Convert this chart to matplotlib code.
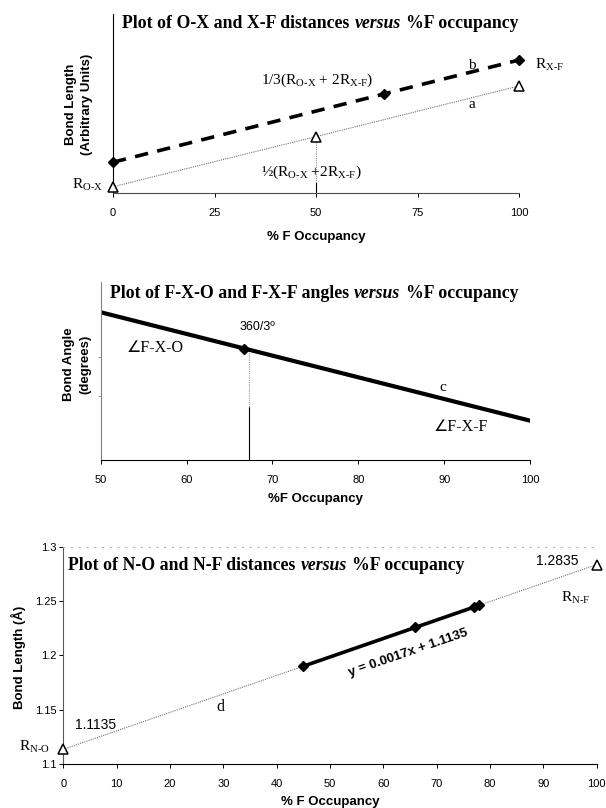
import matplotlib
matplotlib.use("Agg")
import matplotlib.pyplot as plt
from matplotlib.text import Annotation

plt.rcParams["font.family"] = ["Liberation Sans", "DejaVu Sans"]
plt.rcParams["mathtext.fontset"] = "custom"
plt.rcParams["mathtext.rm"] = "Liberation Serif"
plt.rcParams["mathtext.it"] = "Liberation Serif:italic"
plt.rcParams["mathtext.bf"] = "Liberation Serif:bold"

# ---------------- data ----------------
# panel 1 : distances (arbitrary units)
occ_b = [0, 66.7, 100]
len_b = [1.72, 5.53, 7.43]
occ_a = [0, 50, 100]
len_a = [0.35, 3.15, 5.98]
ticks_1 = [0, 25, 50, 75, 100]

# panel 2 : angles (arbitrary units)
occ_c = [50, 100]
ang_c = [8.30, 2.21]
occ_diamond = [66.7]
ang_diamond = [6.24]
occ_marker_line = 67.3
ticks_2 = [50, 60, 70, 80, 90, 100]
yticks_2 = [3.6, 5.8]

# panel 3 : N-O / N-F distances
occ_d = [0, 100]
len_d = [1.1135, 1.2835]
occ_fit = [45, 66, 77, 78]
len_fit = [1.1900, 1.2257, 1.2444, 1.2461]
ticks_3 = [0, 10, 20, 30, 40, 50, 60, 70, 80, 90, 100]
yticks_3 = [1.1, 1.15, 1.2, 1.25, 1.3]
ytick_labels_3 = ["1.1", "1.15", "1.2", "1.25", "1.3"]

W, H = 606, 808
fig = plt.figure(figsize=(W / 100, H / 100), dpi=100)

SERIF = ["Liberation Serif", "DejaVu Serif"]
ANGLE = ["Liberation Serif", "DejaVu Sans"]
TITLE_SIZE = 12.8


def px_axes(left, top, right, bottom):
    return fig.add_axes([left / W, 1 - bottom / H, (right - left) / W, (bottom - top) / H])


def fig_text(x, y, s, **kw):
    return fig.text(x / W, 1 - y / H, s, **kw)


def title(x, y, parts):
    prev = fig_text(x, y, parts[0][0], fontsize=TITLE_SIZE, fontweight="bold",
                    family=SERIF, fontstyle=parts[0][1], va="baseline")
    for s, style in parts[1:]:
        prev = fig.add_artist(Annotation(
            s, xy=(1, 0), xycoords=prev, xytext=(3.8, 0),
            textcoords="offset points", va="bottom", ha="left",
            fontsize=TITLE_SIZE, fontweight="bold", family=SERIF,
            fontstyle=style))


def sub(a, b):
    return a + r"$_{\text{" + b + "}}$"


########################################
# Panel 1
########################################
ax1 = px_axes(113, 14, 519, 193)
ax1.plot(occ_a, len_a, color="0.45", lw=0.8, ls=(0, (1, 1)), zorder=2)
ax1.plot(occ_a, len_a, ls="none", marker="^", ms=6.5, mfc="white",
         mec="black", mew=1.1, zorder=3, clip_on=False)
ax1.plot(occ_b, len_b, color="black", lw=2.6, dashes=(3.7, 2.6), zorder=3)
ax1.plot(occ_b, len_b, ls="none", marker="D", ms=5.5, color="black",
         zorder=4, clip_on=False)
ax1.plot([50, 50], [0.55, len_a[1] - 0.3], color="0.55", lw=0.8, ls=(0, (1, 1)))
ax1.plot([50, 50], [0, 0.55], color="black", lw=0.8)
ax1.set_xlim(0, 100)
ax1.set_ylim(0, 10)
ax1.set_xticks(ticks_1)
ax1.set_yticks([])
for s in ["top", "right"]:
    ax1.spines[s].set_visible(False)
ax1.spines["bottom"].set_linestyle((0, (2, 1)))
ax1.spines["bottom"].set_color("0.3")
ax1.spines["left"].set_linewidth(0.8)
ax1.tick_params(axis="x", length=3, width=0.7, pad=8, labelsize=8)

ax1.text(50.2, 6.31, "1/3(" + sub("R", "O-X") + " + 2" + sub("R", "X-F") + ")",
         family=SERIF, fontsize=11, ha="center", va="center")
ax1.text(88.3, 7.15, "b", family=SERIF, fontsize=11, ha="center", va="center")
ax1.text(88.3, 4.92, "a", family=SERIF, fontsize=11, ha="center", va="center")
ax1.text(104, 7.15, sub("R", "X-F"), family=SERIF, fontsize=11, ha="left",
         va="center", clip_on=False)
ax1.text(48.8, 1.17, "\u00bd(" + sub("R", "O-X") + " +2" + sub("R", "X-F") + ")",
         family=SERIF, fontsize=11, ha="center", va="center")
ax1.text(-2.5, 0.45, sub("R", "O-X"), family=SERIF, fontsize=11, ha="right",
         va="center", clip_on=False)

fig_text(316, 237, "% F Occupancy", fontsize=9.5, fontweight="bold",
         ha="center", va="center")
fig_text(79, 104, "Bond Length\n(Arbitrary Units)", fontsize=9.5,
         fontweight="bold", ha="center", va="center", rotation=90,
         linespacing=1.45)

########################################
# Panel 2
########################################
ax2 = px_axes(100.7, 282, 530, 460)
ax2.plot([occ_marker_line] * 2, [0, 3.0], color="black", lw=0.8)
ax2.plot([occ_marker_line] * 2, [3.0, ang_diamond[0]], color="0.6", lw=0.8,
         ls=(0, (1, 1)))
ax2.plot(occ_c, ang_c, color="black", lw=3)
ax2.plot(occ_diamond, ang_diamond, ls="none", marker="D", ms=5.5, color="black")
ax2.set_xlim(50, 100)
ax2.set_ylim(0, 10)
ax2.set_xticks(ticks_2)
ax2.set_yticks(yticks_2)
ax2.set_yticklabels([])
for s in ["top", "right"]:
    ax2.spines[s].set_visible(False)
ax2.spines["left"].set_color("0.5")
ax2.spines["left"].set_linewidth(0.8)
ax2.spines["bottom"].set_linewidth(0.8)
ax2.tick_params(axis="x", length=3, width=0.7, pad=8, labelsize=8)
ax2.tick_params(axis="y", length=2, width=0.6, color="0.5")

ax2.text(68.2, 7.47, "360/3\u00ba", fontsize=9, ha="center", va="center")
ax2.text(56.3, 6.29, "\u2220F-X-O", family=ANGLE, fontsize=11.5,
         ha="center", va="center")
ax2.text(89.9, 4.1, "c", family=SERIF, fontsize=11, ha="center", va="center")
ax2.text(91.9, 1.85, "\u2220F-X-F", family=ANGLE, fontsize=11.5,
         ha="center", va="center")

fig_text(315, 499, "%F Occupancy", fontsize=9.5, fontweight="bold",
         ha="center", va="center")
fig_text(77, 364, "Bond Angle\n(degrees)", fontsize=9.5, fontweight="bold",
         ha="center", va="center", rotation=90, linespacing=1.45)

########################################
# Panel 3
########################################
ax3 = px_axes(63.3, 546.7, 596.6, 764)
ax3.plot(occ_d, len_d, color="0.45", lw=0.8, ls=(0, (1, 1)), zorder=2)
ax3.plot(occ_d, len_d, ls="none", marker="^", ms=6.5, mfc="white",
         mec="black", mew=1.1, zorder=3, clip_on=False)
ax3.plot(occ_fit, len_fit, color="black", lw=2.6, zorder=3)
ax3.plot(occ_fit, len_fit, ls="none", marker="D", ms=5.5, color="black", zorder=4)
ax3.set_xlim(0, 100)
ax3.set_ylim(1.1, 1.3)
ax3.set_xticks(ticks_3)
ax3.set_yticks(yticks_3)
ax3.set_yticklabels(ytick_labels_3)
ax3.spines["right"].set_visible(False)
ax3.spines["top"].set_linestyle((0, (1, 6)))
ax3.spines["top"].set_color("0.7")
ax3.spines["left"].set_linestyle((0, (1, 1)))
ax3.spines["left"].set_color("0.35")
ax3.spines["bottom"].set_linewidth(0.8)
ax3.tick_params(axis="x", length=3, width=0.7, pad=8, labelsize=8)
ax3.tick_params(axis="y", length=3, width=0.7, pad=2, labelsize=8)

ax3.text(6.1, 1.1359, "1.1135", fontsize=10, ha="center", va="center")
ax3.text(-2.5, 1.1156, sub("R", "N-O"), family=SERIF, fontsize=11,
         ha="right", va="center", clip_on=False)
ax3.text(92.6, 1.2868, "1.2835", fontsize=10, ha="center", va="center")
ax3.text(96.1, 1.2528, sub("R", "N-F"), family=SERIF, fontsize=11,
         ha="center", va="center")
ax3.text(29.4, 1.1525, "d", family=SERIF, fontsize=11.5, ha="center", va="center")
ax3.text(64.6, 1.2025, "y = 0.0017x + 1.1135", fontsize=9.5, fontweight="bold",
         ha="center", va="center", rotation=19, rotation_mode="anchor")

fig_text(330, 802, "% F Occupancy", fontsize=9.5, fontweight="bold",
         ha="center", va="center")
fig_text(18, 657, "Bond Length (\u00c5)", fontsize=9.5, fontweight="bold",
         ha="center", va="center", rotation=90)

########################################
# Titles
########################################
title(122, 28.3, [("Plot of O-X and X-F distances", "normal"),
                  ("versus", "italic"), ("%F occupancy", "normal")])
title(110, 298, [("Plot of F-X-O and F-X-F angles", "normal"),
                 ("versus", "italic"), ("%F occupancy", "normal")])
title(68.3, 570, [("Plot of N-O and N-F distances", "normal"),
                  ("versus", "italic"), ("%F occupancy", "normal")])

fig.savefig("out.png", dpi=100)
